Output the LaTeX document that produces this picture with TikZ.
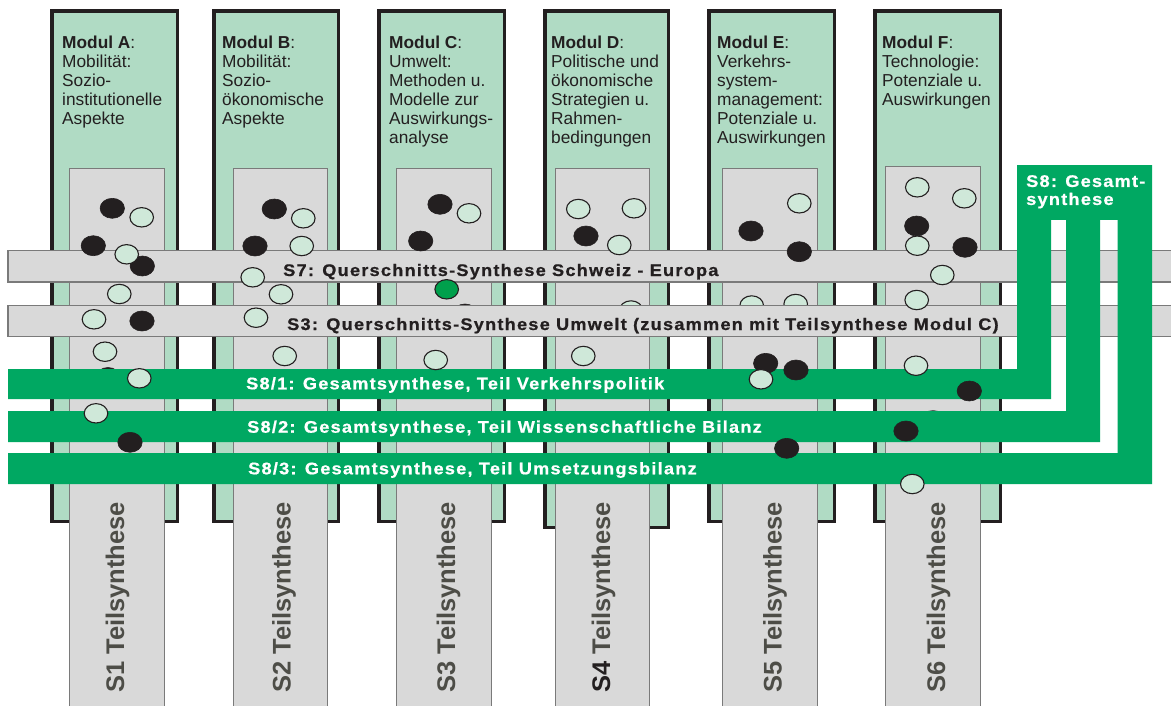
\documentclass[tikz,border=0pt]{standalone}
\usepackage{fontspec}
\setmainfont{Liberation Sans}
\newfontfamily\trackedfont[LetterSpace=7.4,FakeStretch=1.08,FakeBold=0.8]{Liberation Sans}

\definecolor{modfill}{RGB}{176,219,196}
\definecolor{ink}{RGB}{35,31,32}
\definecolor{colgrey}{RGB}{217,217,217}
\definecolor{edgegrey}{RGB}{122,122,122}
\definecolor{sgreen}{RGB}{0,168,98}
\definecolor{dotlight}{RGB}{207,232,217}
\definecolor{dotgreen}{RGB}{0,160,76}
\definecolor{vtext}{RGB}{77,77,71}

\begin{document}
\begin{tikzpicture}[x=1pt,y=-1pt,
  module/.style={draw=ink, line width=3.5pt, fill=modfill},
  column/.style={draw=edgegrey, line width=1pt, fill=colgrey},
  crossbar/.style={draw=edgegrey, line width=1.5pt, fill=colgrey},
  synbar/.style={fill=sgreen},
  darkdot/.style={fill=ink, draw=ink, line width=0.6pt},
  lightdot/.style={fill=dotlight, draw=ink, line width=1.1pt},
  greendot/.style={fill=dotgreen, draw=ink, line width=1.1pt},
  modtext/.style={anchor=north west, inner sep=0pt, align=left, text=ink,
    font=\fontsize{17.3}{19}\selectfont},
  bartext/.style={anchor=base west, inner sep=0pt,
    font=\trackedfont\bfseries\fontsize{16.8}{18}\selectfont},
  coltext/.style={anchor=base, rotate=90, inner sep=0pt, text=vtext,
    font=\bfseries\fontsize{25.5}{28}\selectfont},
]
\useasboundingbox (0,0) rectangle (1171,705);
\clip (0,0) rectangle (1171,705);

% module frames (outer edges minus half the border width)
\foreach \l/\r/\b in {50/179/523, 212/340/523, 377/506/523, 543/670/529, 707/836/523, 873/1002/523}
  \draw[module] (\l+1.75,10.75) rectangle (\r-1.75,\b-1.75);

% grey synthesis columns running down to the page edge
\foreach \l/\r/\t in {69/164/168.5, 233/327/168.5, 396/491/168.5, 555/649.5/168.5, 722/817/168.5, 885.5/980/166}
  \draw[column] (\l,\t) rectangle (\r,712);

% module descriptions
\node[modtext] (ta) at (62,35.6) {\textbf{Modul A}:\\Mobilität:\\Sozio-\\institutionelle\\Aspekte};
\node[modtext] (tb) at (222,35.6) {\textbf{Modul B}:\\Mobilität:\\Sozio-\\ökonomische\\Aspekte};
\node[modtext] (tc) at (389,35.6) {\textbf{Modul C}:\\Umwelt:\\Methoden u.\\Modelle zur\\Auswirkungs-\\analyse};
\node[modtext] (td) at (551,35.6) {\textbf{Modul D}:\\Politische und\\ökonomische\\Strategien u.\\Rahmen-\\bedingungen};
\node[modtext] (te) at (717,35.6) {\textbf{Modul E}:\\Verkehrs-\\system-\\management:\\Potenziale u.\\Auswirkungen};
\node[modtext] (tf) at (882,35.6) {\textbf{Modul F}:\\Technologie:\\Potenziale u.\\Auswirkungen};

% column labels
\node[coltext] (s1) at (124,597.5) {S1 Teilsynthese};
\node[coltext] (s2) at (290.5,597.5) {S2 Teilsynthese};
\node[coltext] (s3) at (455,597.5) {S3 Teilsynthese};
\node[coltext] (s4) at (610,597.5) {\textcolor{ink}{S4} Teilsynthese};
\node[coltext] (s5) at (781.5,597.5) {S5 Teilsynthese};
\node[coltext] (s6) at (945,597.5) {S6 Teilsynthese};

% dots partly hidden by the cross bars
\foreach \p in {(465,314)} \draw[darkdot] \p ellipse [x radius=12.2pt, y radius=10pt];
\foreach \p in {(631,310.5), (751.7,305.5), (795.7,304)}
  \draw[lightdot] \p ellipse [x radius=11.8pt, y radius=9.7pt];

% cross-cutting syntheses
\draw[crossbar] (8,250.7) rectangle (1185,282);
\draw[crossbar] (8,305.3) rectangle (1185,336.7);
\node[bartext, text=ink] (s7) at (283,276) {S7: Querschnitts-Synthese Schweiz - Europa};
\node[bartext, text=ink] (s3x) at (287,330) {S3: Querschnitts-Synthese Umwelt (zusammen mit Teilsynthese Modul C)};

% dots hidden below the overall synthesis bars
\draw[darkdot] (108,377.5) ellipse [x radius=12.2pt, y radius=10pt];
\draw[lightdot] (933,420.5) ellipse [x radius=11.8pt, y radius=9.7pt];

% overall synthesis S8 with its three branches
\fill[synbar] (8,369) -- (1017,369) -- (1017,165) -- (1051,165) -- (1051,399) -- (8,399) -- cycle;
\fill[synbar] (8,411) -- (1066,411) -- (1066,165) -- (1100,165) -- (1100,442) -- (8,442) -- cycle;
\fill[synbar] (8,453) -- (1117.5,453) -- (1117.5,165) -- (1152,165) -- (1152,484) -- (8,484) -- cycle;
\fill[synbar] (1017,165) rectangle (1152,220);
\node[bartext, anchor=north west, align=left, text=white] (s8) at (1026,175) {S8: Gesamt-\\synthese};
\node[bartext, text=white] (s81) at (246,389.3) {S8/1: Gesamtsynthese, Teil Verkehrspolitik};
\node[bartext, text=white] (s82) at (247,432.7) {S8/2: Gesamtsynthese, Teil Wissenschaftliche Bilanz};
\node[bartext, text=white] (s83) at (248,474.3) {S8/3: Gesamtsynthese, Teil Umsetzungsbilanz};

% contributions of the projects
\foreach \p in {(112.3,208.3), (93.3,245.7), (142.3,266), (142,321), (130,442.3),
                (274.3,209), (255,246),
                (440,204.3), (420.7,241),
                (586,236),
                (751,231), (799.3,251.7), (765.7,363.3), (796,370), (786.7,448.3),
                (916.7,226), (965,247.3), (969.3,391), (906,431)}
  \draw[darkdot] \p ellipse [x radius=12.2pt, y radius=10pt];
\foreach \p in {(141.7,217.3), (126.7,254.3), (119.3,294), (94,319.3), (105,351.7), (139.3,378.3), (96,413.3),
                (303.3,218.3), (301.7,246), (252.7,277.3), (281,294.3), (256,317.7), (284.7,356),
                (469,213.3), (435.7,360),
                (578.3,209), (634,208.3), (619.3,245), (583.3,356),
                (799.3,203.3), (761,379.3),
                (917.3,187.3), (964.3,198.3), (917.3,245.7), (942.3,275), (916.7,300), (916,365.7), (912.3,484)}
  \draw[lightdot] \p ellipse [x radius=11.8pt, y radius=9.7pt];
\draw[greendot] (446.7,289.3) ellipse [x radius=11.8pt, y radius=9.7pt];
\end{tikzpicture}
\end{document}
